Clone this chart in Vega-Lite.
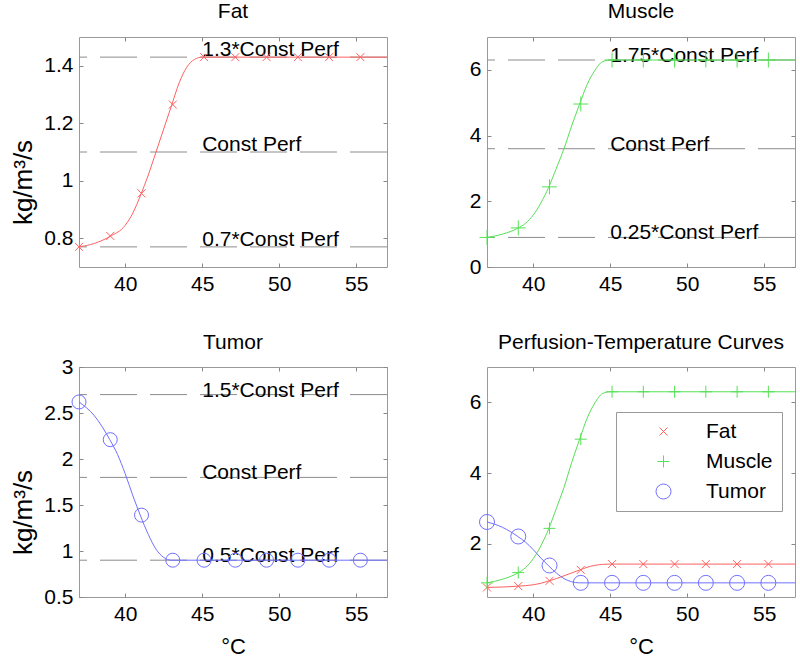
{
  "$schema": "https://vega.github.io/schema/vega-lite/v6.json",
  "padding": {"left": 10, "top": 0, "right": 2, "bottom": 0},
  "config": {
    "font": "Liberation Sans",
    "view": {"stroke": "#999", "strokeWidth": 1},
    "axis": {"domain": false, "grid": false, "tickSize": -4, "tickColor": "#888", "labelFontSize": 21, "labelColor": "#000", "titleFontSize": 21, "titleFontWeight": "normal", "titleColor": "#000", "labelPadding": 10, "format": "~g"},
    "title": {"fontSize": 21, "fontWeight": "normal", "color": "#000", "baseline": "alphabetic", "offset": 15},
    "legend": {"labelFontSize": 21, "labelColor": "#000", "strokeColor": "#999", "fillColor": "white", "padding": 9, "rowPadding": 8, "symbolOffset": 28, "labelOffset": 32, "symbolStrokeWidth": 1, "symbolSize": 144}
  },
  "datasets": {
    "markers": [
      {"tissue": "Fat", "t": 37, "v": 0.77}, {"tissue": "Fat", "t": 39.03, "v": 0.808}, {"tissue": "Fat", "t": 41.06, "v": 0.956}, {"tissue": "Fat", "t": 43.09, "v": 1.265}, {"tissue": "Fat", "t": 45.12, "v": 1.43}, {"tissue": "Fat", "t": 47.15, "v": 1.43}, {"tissue": "Fat", "t": 49.18, "v": 1.43}, {"tissue": "Fat", "t": 51.21, "v": 1.43}, {"tissue": "Fat", "t": 53.24, "v": 1.43}, {"tissue": "Fat", "t": 55.27, "v": 1.43},
      {"tissue": "Muscle", "t": 37, "v": 0.9}, {"tissue": "Muscle", "t": 39.03, "v": 1.19}, {"tissue": "Muscle", "t": 41.06, "v": 2.44}, {"tissue": "Muscle", "t": 43.09, "v": 4.96}, {"tissue": "Muscle", "t": 45.12, "v": 6.3}, {"tissue": "Muscle", "t": 47.15, "v": 6.3}, {"tissue": "Muscle", "t": 49.18, "v": 6.3}, {"tissue": "Muscle", "t": 51.21, "v": 6.3}, {"tissue": "Muscle", "t": 53.24, "v": 6.3}, {"tissue": "Muscle", "t": 55.27, "v": 6.3},
      {"tissue": "Tumor", "t": 37, "v": 2.62}, {"tissue": "Tumor", "t": 39.03, "v": 2.21}, {"tissue": "Tumor", "t": 41.06, "v": 1.39}, {"tissue": "Tumor", "t": 43.09, "v": 0.9}, {"tissue": "Tumor", "t": 45.12, "v": 0.9}, {"tissue": "Tumor", "t": 47.15, "v": 0.9}, {"tissue": "Tumor", "t": 49.18, "v": 0.9}, {"tissue": "Tumor", "t": 51.21, "v": 0.9}, {"tissue": "Tumor", "t": 53.24, "v": 0.9}, {"tissue": "Tumor", "t": 55.27, "v": 0.9}
    ],
    "curves": [
      {"tissue": "Fat", "t": 37, "v": 0.77}, {"tissue": "Fat", "t": 38, "v": 0.782}, {"tissue": "Fat", "t": 39, "v": 0.806}, {"tissue": "Fat", "t": 40, "v": 0.845}, {"tissue": "Fat", "t": 40.5, "v": 0.888}, {"tissue": "Fat", "t": 41, "v": 0.95}, {"tissue": "Fat", "t": 41.5, "v": 1.02}, {"tissue": "Fat", "t": 42, "v": 1.1}, {"tissue": "Fat", "t": 42.5, "v": 1.18}, {"tissue": "Fat", "t": 43, "v": 1.26}, {"tissue": "Fat", "t": 43.5, "v": 1.34}, {"tissue": "Fat", "t": 44, "v": 1.395}, {"tissue": "Fat", "t": 44.5, "v": 1.422}, {"tissue": "Fat", "t": 45, "v": 1.43}, {"tissue": "Fat", "t": 57, "v": 1.43},
      {"tissue": "Muscle", "t": 37, "v": 0.9}, {"tissue": "Muscle", "t": 38, "v": 1.0}, {"tissue": "Muscle", "t": 39, "v": 1.18}, {"tissue": "Muscle", "t": 39.5, "v": 1.33}, {"tissue": "Muscle", "t": 40, "v": 1.58}, {"tissue": "Muscle", "t": 40.5, "v": 1.95}, {"tissue": "Muscle", "t": 41, "v": 2.42}, {"tissue": "Muscle", "t": 41.5, "v": 3.0}, {"tissue": "Muscle", "t": 42, "v": 3.6}, {"tissue": "Muscle", "t": 42.5, "v": 4.3}, {"tissue": "Muscle", "t": 43, "v": 4.94}, {"tissue": "Muscle", "t": 43.5, "v": 5.55}, {"tissue": "Muscle", "t": 44, "v": 5.98}, {"tissue": "Muscle", "t": 44.5, "v": 6.25}, {"tissue": "Muscle", "t": 45, "v": 6.3}, {"tissue": "Muscle", "t": 57, "v": 6.3},
      {"tissue": "Tumor", "t": 37, "v": 2.62}, {"tissue": "Tumor", "t": 38, "v": 2.47}, {"tissue": "Tumor", "t": 39, "v": 2.21}, {"tissue": "Tumor", "t": 39.5, "v": 2.05}, {"tissue": "Tumor", "t": 40, "v": 1.84}, {"tissue": "Tumor", "t": 40.5, "v": 1.6}, {"tissue": "Tumor", "t": 41, "v": 1.38}, {"tissue": "Tumor", "t": 41.5, "v": 1.18}, {"tissue": "Tumor", "t": 42, "v": 1.02}, {"tissue": "Tumor", "t": 42.5, "v": 0.93}, {"tissue": "Tumor", "t": 43, "v": 0.9}, {"tissue": "Tumor", "t": 57, "v": 0.9}
    ],
    "levels": [
      {"tissue": "Fat", "v": 1.43, "label": "1.3*Const Perf"}, {"tissue": "Fat", "v": 1.1, "label": "Const Perf"}, {"tissue": "Fat", "v": 0.77, "label": "0.7*Const Perf"},
      {"tissue": "Muscle", "v": 6.3, "label": "1.75*Const Perf"}, {"tissue": "Muscle", "v": 3.6, "label": "Const Perf"}, {"tissue": "Muscle", "v": 0.9, "label": "0.25*Const Perf"},
      {"tissue": "Tumor", "v": 2.7, "label": "1.5*Const Perf"}, {"tissue": "Tumor", "v": 1.8, "label": "Const Perf"}, {"tissue": "Tumor", "v": 0.9, "label": "0.5*Const Perf"}
    ]
  },
  "spacing": 36,
  "vconcat": [
    {
      "spacing": 78,
      "hconcat": [
        {
          "width": 308, "height": 230,
          "title": "Fat",
          "resolve": {"axis": {"x": "independent", "y": "independent"}},
          "layer": [
            {"data": {"name": "levels"}, "transform": [{"filter": "datum.tissue === 'Fat'"}],
             "mark": {"type": "rule", "strokeDash": [37, 13], "color": "#8c8c8c", "strokeWidth": 1},
             "encoding": {"y": {"field": "v", "type": "quantitative", "scale": {"domain": [0.7, 1.5], "nice": false, "zero": false}, "axis": null}}},
            {"data": {"name": "levels"}, "transform": [{"filter": "datum.tissue === 'Fat'"}],
             "mark": {"type": "text", "align": "left", "baseline": "alphabetic", "dy": -1, "fontSize": 21, "color": "#000"},
             "encoding": {"x": {"datum": 45, "type": "quantitative", "scale": {"domain": [37, 57], "nice": false, "zero": false}, "axis": null}, "y": {"field": "v", "type": "quantitative", "scale": {"domain": [0.7, 1.5], "nice": false, "zero": false}, "axis": null}, "text": {"field": "label"}}},
            {"data": {"name": "curves"}, "transform": [{"filter": "datum.tissue === 'Fat'"}],
             "mark": {"type": "line", "interpolate": "monotone", "color": "#ff6060", "strokeWidth": 1},
             "encoding": {"x": {"field": "t", "type": "quantitative", "scale": {"domain": [37, 57], "nice": false, "zero": false}, "axis": {"values": [40, 45, 50, 55], "title": null}}, "y": {"field": "v", "type": "quantitative", "scale": {"domain": [0.7, 1.5], "nice": false, "zero": false}, "axis": {"values": [0.8, 1, 1.2, 1.4], "title": "kg/m³/s", "titleFontSize": 26, "titlePadding": 7, "titleY": 145}}}},
            {"data": {"name": "markers"}, "transform": [{"filter": "datum.tissue === 'Fat'"}],
             "mark": {"type": "point", "shape": "M-1,-1L1,1M-1,1L1,-1", "filled": false, "color": "#ff6060", "size": 64, "strokeWidth": 1, "opacity": 1},
             "encoding": {"x": {"field": "t", "type": "quantitative", "scale": {"domain": [37, 57], "nice": false, "zero": false}, "axis": {"orient": "top", "values": [40, 45, 50, 55], "labels": false, "title": null}}, "y": {"field": "v", "type": "quantitative", "scale": {"domain": [0.7, 1.5], "nice": false, "zero": false}, "axis": {"orient": "right", "values": [0.8, 1, 1.2, 1.4], "labels": false, "title": null}}}}
          ]
        },
        {
          "width": 308, "height": 230,
          "title": "Muscle",
          "resolve": {"axis": {"x": "independent", "y": "independent"}},
          "layer": [
            {"data": {"name": "levels"}, "transform": [{"filter": "datum.tissue === 'Muscle'"}],
             "mark": {"type": "rule", "strokeDash": [37, 13], "color": "#8c8c8c", "strokeWidth": 1},
             "encoding": {"y": {"field": "v", "type": "quantitative", "scale": {"domain": [0, 7], "nice": false, "zero": false}, "axis": null}}},
            {"data": {"name": "levels"}, "transform": [{"filter": "datum.tissue === 'Muscle'"}],
             "mark": {"type": "text", "align": "left", "baseline": "alphabetic", "dy": 2, "fontSize": 21, "color": "#000"},
             "encoding": {"x": {"datum": 45, "type": "quantitative", "scale": {"domain": [37, 57], "nice": false, "zero": false}, "axis": null}, "y": {"field": "v", "type": "quantitative", "scale": {"domain": [0, 7], "nice": false, "zero": false}, "axis": null}, "text": {"field": "label"}}},
            {"data": {"name": "curves"}, "transform": [{"filter": "datum.tissue === 'Muscle'"}],
             "mark": {"type": "line", "interpolate": "monotone", "color": "#55e055", "strokeWidth": 1},
             "encoding": {"x": {"field": "t", "type": "quantitative", "scale": {"domain": [37, 57], "nice": false, "zero": false}, "axis": {"values": [40, 45, 50, 55], "title": null}}, "y": {"field": "v", "type": "quantitative", "scale": {"domain": [0, 7], "nice": false, "zero": false}, "axis": {"values": [0, 2, 4, 6], "title": null}}}},
            {"data": {"name": "markers"}, "transform": [{"filter": "datum.tissue === 'Muscle'"}],
             "mark": {"type": "point", "shape": "M-1,0L1,0M0,-1L0,1", "filled": false, "color": "#55e055", "size": 225, "strokeWidth": 1, "opacity": 1},
             "encoding": {"x": {"field": "t", "type": "quantitative", "scale": {"domain": [37, 57], "nice": false, "zero": false}, "axis": {"orient": "top", "values": [40, 45, 50, 55], "labels": false, "title": null}}, "y": {"field": "v", "type": "quantitative", "scale": {"domain": [0, 7], "nice": false, "zero": false}, "axis": {"orient": "right", "values": [0, 2, 4, 6], "labels": false, "title": null}}}}
          ]
        }
      ]
    },
    {
      "spacing": 78,
      "hconcat": [
        {
          "width": 308, "height": 230,
          "title": {"text": "Tumor", "offset": 3},
          "resolve": {"axis": {"x": "independent", "y": "independent"}},
          "layer": [
            {"data": {"name": "levels"}, "transform": [{"filter": "datum.tissue === 'Tumor'"}],
             "mark": {"type": "rule", "strokeDash": [37, 13], "color": "#8c8c8c", "strokeWidth": 1},
             "encoding": {"y": {"field": "v", "type": "quantitative", "scale": {"domain": [0.5, 3], "nice": false, "zero": false}, "axis": null}}},
            {"data": {"name": "levels"}, "transform": [{"filter": "datum.tissue === 'Tumor'"}],
             "mark": {"type": "text", "align": "left", "baseline": "alphabetic", "dy": 2, "fontSize": 21, "color": "#000"},
             "encoding": {"x": {"datum": 45, "type": "quantitative", "scale": {"domain": [37, 57], "nice": false, "zero": false}, "axis": null}, "y": {"field": "v", "type": "quantitative", "scale": {"domain": [0.5, 3], "nice": false, "zero": false}, "axis": null}, "text": {"field": "label"}}},
            {"data": {"name": "curves"}, "transform": [{"filter": "datum.tissue === 'Tumor'"}],
             "mark": {"type": "line", "interpolate": "monotone", "color": "#7070ff", "strokeWidth": 1},
             "encoding": {"x": {"field": "t", "type": "quantitative", "scale": {"domain": [37, 57], "nice": false, "zero": false}, "axis": {"values": [40, 45, 50, 55], "title": "°C", "titleFontSize": 22, "titlePadding": 12}}, "y": {"field": "v", "type": "quantitative", "scale": {"domain": [0.5, 3], "nice": false, "zero": false}, "axis": {"values": [0.5, 1, 1.5, 2, 2.5, 3], "title": "kg/m³/s", "titleFontSize": 26, "titlePadding": 7, "titleY": 145}}}},
            {"data": {"name": "markers"}, "transform": [{"filter": "datum.tissue === 'Tumor'"}],
             "mark": {"type": "point", "shape": "circle", "filled": false, "color": "#7070ff", "size": 196, "strokeWidth": 1, "opacity": 1},
             "encoding": {"x": {"field": "t", "type": "quantitative", "scale": {"domain": [37, 57], "nice": false, "zero": false}, "axis": {"orient": "top", "values": [40, 45, 50, 55], "labels": false, "title": null}}, "y": {"field": "v", "type": "quantitative", "scale": {"domain": [0.5, 3], "nice": false, "zero": false}, "axis": {"orient": "right", "values": [0.5, 1, 1.5, 2, 2.5, 3], "labels": false, "title": null}}}}
          ]
        },
        {
          "width": 308, "height": 230,
          "title": {"text": "Perfusion-Temperature Curves", "offset": 14},
          "resolve": {"axis": {"x": "independent", "y": "independent"}},
          "layer": [
            {"data": {"name": "curves"}, "transform": [{"filter": "datum.tissue === 'Fat'"}],
             "mark": {"type": "line", "interpolate": "monotone", "color": "#ff6060", "strokeWidth": 1},
             "encoding": {"x": {"field": "t", "type": "quantitative", "scale": {"domain": [37, 57], "nice": false, "zero": false}, "axis": {"values": [40, 45, 50, 55], "title": "°C", "titleFontSize": 22, "titlePadding": 12}}, "y": {"field": "v", "type": "quantitative", "scale": {"domain": [0.5, 7], "nice": false, "zero": false}, "axis": {"values": [2, 4, 6], "title": null}}}},
            {"data": {"name": "curves"}, "transform": [{"filter": "datum.tissue === 'Muscle'"}],
             "mark": {"type": "line", "interpolate": "monotone", "color": "#55e055", "strokeWidth": 1},
             "encoding": {"x": {"field": "t", "type": "quantitative", "scale": {"domain": [37, 57], "nice": false, "zero": false}, "axis": null}, "y": {"field": "v", "type": "quantitative", "scale": {"domain": [0.5, 7], "nice": false, "zero": false}, "axis": null}}},
            {"data": {"name": "curves"}, "transform": [{"filter": "datum.tissue === 'Tumor'"}],
             "mark": {"type": "line", "interpolate": "monotone", "color": "#7070ff", "strokeWidth": 1},
             "encoding": {"x": {"field": "t", "type": "quantitative", "scale": {"domain": [37, 57], "nice": false, "zero": false}, "axis": null}, "y": {"field": "v", "type": "quantitative", "scale": {"domain": [0.5, 7], "nice": false, "zero": false}, "axis": null}}},
            {"data": {"name": "markers"},
             "mark": {"type": "point", "filled": false, "strokeWidth": 1, "opacity": 1},
             "encoding": {"x": {"field": "t", "type": "quantitative", "scale": {"domain": [37, 57], "nice": false, "zero": false}, "axis": {"orient": "top", "values": [40, 45, 50, 55], "labels": false, "title": null}}, "y": {"field": "v", "type": "quantitative", "scale": {"domain": [0.5, 7], "nice": false, "zero": false}, "axis": {"orient": "right", "values": [2, 4, 6], "labels": false, "title": null}},
               "color": {"field": "tissue", "type": "nominal", "scale": {"domain": ["Fat", "Muscle", "Tumor"], "range": ["#ff6060", "#55e055", "#7070ff"]}, "legend": {"title": null, "orient": "none", "legendX": 537, "legendY": 375}},
               "shape": {"field": "tissue", "type": "nominal", "scale": {"domain": ["Fat", "Muscle", "Tumor"], "range": ["M-1,-1L1,1M-1,1L1,-1", "M-1,0L1,0M0,-1L0,1", "circle"]}, "legend": {"title": null, "orient": "none", "legendX": 537, "legendY": 375}},
               "size": {"field": "tissue", "type": "nominal", "scale": {"domain": ["Fat", "Muscle", "Tumor"], "range": [64, 225, 225]}, "legend": null}}}
          ]
        }
      ]
    }
  ]
}
